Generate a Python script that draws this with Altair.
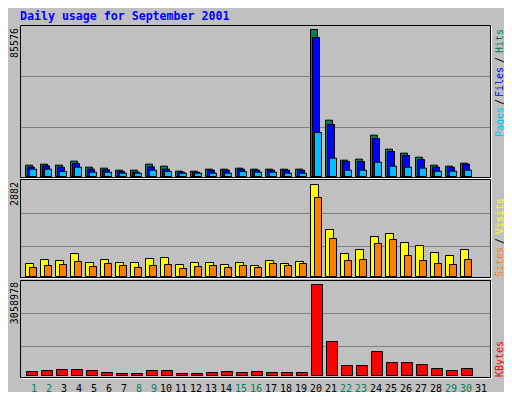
import altair as alt
import pandas as pd

# ---------------- data ----------------
days = list(range(1, 31))
hits = [6598, 7180, 6598, 8926, 5433, 4851, 3687, 3687, 7180, 6015,
        3105, 3105, 4269, 4269, 4851, 4269, 4269, 4269, 4269, 85576,
        32794, 9508, 10090, 24062, 15912, 13583, 11255, 6598, 6015, 7762]
files = [5433, 6209, 5433, 7568, 4269, 3881, 2911, 2523, 5627, 4269,
         2523, 2523, 3687, 3687, 4269, 3687, 3687, 3687, 3687, 80919,
         30272, 8732, 8732, 22122, 14554, 12225, 9897, 5433, 5433, 7180]
pages = [4269, 4269, 2911, 5433, 2523, 2523, 1941, 1941, 3687, 2911,
         1941, 1941, 1941, 1941, 2911, 2523, 2523, 1941, 1941, 25615,
         10673, 3687, 3687, 8344, 6015, 5433, 4851, 3105, 3105, 3687]
visits = [407, 532, 501, 720, 438, 532, 438, 438, 564, 595,
          376, 438, 438, 376, 438, 345, 501, 407, 470, 2882,
          1472, 720, 846, 1253, 1347, 1065, 971, 752, 658, 846]
sites = [282, 345, 376, 470, 313, 407, 345, 282, 345, 376,
         251, 313, 345, 282, 345, 282, 407, 345, 407, 2474,
         1190, 501, 532, 1034, 1159, 658, 501, 407, 376, 532]
kbytes = [134460, 168075, 201690, 201690, 168075, 100845, 67230, 67230, 168075, 168075,
          67230, 67230, 100845, 134460, 100845, 134460, 100845, 100845, 100845, 3058978,
          1142910, 336150, 336150, 806760, 436995, 436995, 369765, 235305, 168075, 235305]
day_labels = list(range(1, 32))
weekend_days = [1, 2, 8, 9, 15, 16, 22, 23, 29, 30]
title_text = "Daily usage for September 2001"

# ---------------- style ----------------
BG = "#C0C0C0"
DK = "#808080"
C_HITS = "#00805C"
C_FILES = "#0000FF"
C_PAGES = "#00C0FF"
C_VISITS = "#FFFF00"
C_SITES = "#FF8000"
C_KB = "#FF0000"
MONO = "DejaVu Sans Mono"


def px(v):
    # absolute page pixel -> chart coordinate (page has an 8px margin)
    return v - 8


df = pd.DataFrame({"day": days, "hits": hits, "files": files, "pages": pages,
                   "visits": visits, "sites": sites, "kbytes": kbytes})
lab = pd.DataFrame({"day": day_labels,
                    "label": [str(d) for d in day_labels],
                    "weekend": [d in weekend_days for d in day_labels]})
one = pd.DataFrame({"k": [0]})

xs = alt.Scale(domain=[1, 31], range=[px(25), px(475)], nice=False, zero=False, padding=0)
ys_top = alt.Scale(domain=[0, max(hits)], range=[px(176.5), px(29.5)], nice=False, padding=0)
ys_mid = alt.Scale(domain=[0, max(visits)], range=[px(276.5), px(184.5)], nice=False, padding=0)
ys_bot = alt.Scale(domain=[0, max(kbytes)], range=[px(375.5), px(284.5)], nice=False, padding=0)


def hline(y, x1, x2, color):
    return alt.Chart(one).mark_rule(color=color, strokeWidth=1).encode(
        x=alt.value(px(x1)), x2=alt.value(px(x2 + 1)), y=alt.value(px(y + 0.5)))


def vline(x, y1, y2, color):
    return alt.Chart(one).mark_rule(color=color, strokeWidth=1).encode(
        x=alt.value(px(x + 0.5)), y=alt.value(px(y1)), y2=alt.value(px(y2 + 1)))


def frame(y1, y2):
    return [
        alt.Chart(one).mark_rect(fillOpacity=0, stroke="black", strokeWidth=1).encode(
            x=alt.value(px(20.5)), x2=alt.value(px(490.5)),
            y=alt.value(px(y1 + 0.5)), y2=alt.value(px(y2 + 0.5))),
        vline(491, y1 + 1, y2 + 1, "white"),
        hline(y2 + 1, 21, 491, "white"),
    ]


def bars(field, scale, color, width, off):
    return alt.Chart(df).mark_bar(orient="vertical", width=width, xOffset=off,
                                  fill=color, stroke="black", strokeWidth=1,
                                  opacity=1).encode(
        x=alt.X("day:Q", scale=xs, axis=None),
        y=alt.Y(f"{field}:Q", scale=scale, axis=None))


def vtext(txt, color, x, ytop, align="right", baseline="middle"):
    return alt.Chart(one).mark_text(text=txt, angle=270, align=align, baseline=baseline,
                                    font=MONO, fontSize=10, color=color).encode(
        x=alt.value(px(x)), y=alt.value(px(ytop)))


layers = []
# grid lines
for gy in [76, 127, 213, 246, 313, 346]:
    layers.append(hline(gy, 21, 489, DK))
# panel frames
layers += frame(25, 177) + frame(179, 277) + frame(280, 377)

# bars
layers += [
    bars("hits", ys_top, C_HITS, 7, 4),
    bars("files", ys_top, C_FILES, 7, 6),
    bars("pages", ys_top, C_PAGES, 7, 8),
    bars("visits", ys_mid, C_VISITS, 8, 4.5),
    bars("sites", ys_mid, C_SITES, 7, 8),
    bars("kbytes", ys_bot, C_KB, 11, 7),
]

# title
layers.append(alt.Chart(one).mark_text(text=title_text, align="left", baseline="alphabetic",
                                       font=MONO, fontSize=11.6, fontWeight="bold",
                                       color=C_FILES).encode(
    x=alt.value(px(20)), y=alt.value(px(20))))

# max value labels (left)
layers += [vtext(str(max(hits)), "black", 15, 28),
           vtext(str(max(visits)), "black", 15, 182),
           vtext(str(max(kbytes)), "black", 15, 282)]

# legends (right)
RX = 500
layers += [
    vtext("Hits", C_HITS, RX, 29),
    vtext("/", "black", RX, 60, align="center"),
    vtext("Files", C_FILES, RX, 67),
    vtext("/", "black", RX, 102, align="center"),
    vtext("Pages", C_PAGES, RX, 107),
    vtext("Visits", C_VISITS, RX, 198),
    vtext("/", "black", RX, 241, align="center"),
    vtext("Sites", C_SITES, RX, 247),
    vtext("KBytes", C_KB, RX, 341),
]

# day labels
layers.append(alt.Chart(lab).mark_text(align="right", baseline="alphabetic", dx=12,
                                       font=MONO, fontSize=10).encode(
    x=alt.X("day:Q", scale=xs, axis=None),
    y=alt.value(px(391.5)),
    text="label:N",
    color=alt.condition("datum.weekend", alt.value(C_HITS), alt.value("black"))))

chart = alt.layer(*layers).resolve_scale(y="independent").properties(
    width=496, height=384, autosize=alt.AutoSizeParams(type="none"), padding=0,
    background=BG).configure_view(stroke=None)

chart.save("out.html", embed_options={"renderer": "svg", "actions": False})
